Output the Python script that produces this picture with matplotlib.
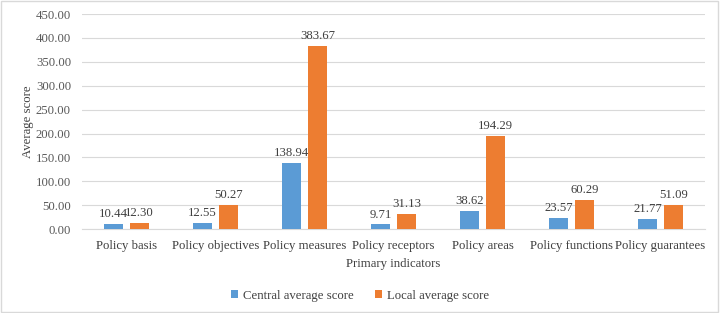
import numpy as np
import matplotlib
matplotlib.use("Agg")
from matplotlib import pyplot as plt

categories = ["Policy basis", "Policy objectives", "Policy measures", "Policy receptors",
              "Policy areas", "Policy functions", "Policy guarantees"]
central = [10.44, 12.55, 138.94, 9.71, 38.62, 23.57, 21.77]
local = [12.30, 50.27, 383.67, 31.13, 194.29, 60.29, 51.09]

plt.rcParams['font.family'] = ['Liberation Serif', 'DejaVu Serif']
plt.rcParams['font.size'] = 9.2

fig = plt.figure(figsize=(7.2, 3.13), dpi=100)
ax = fig.add_axes([0.114, 0.268, 0.865, 0.687])

x = np.arange(len(categories))
w = 0.22
off = 0.145
b1 = ax.bar(x - off, central, w, color="#5B9BD5", label="Central average score", zorder=3)
b2 = ax.bar(x + off, local, w, color="#ED7D31", label="Local average score", zorder=3)

for bars, vals in ((b1, central), (b2, local)):
    for r, v in zip(bars, vals):
        ax.text(r.get_x() + r.get_width() / 2, v + 8, f"{v:.2f}", ha="center", va="bottom",
                color="#404040")

ax.set_ylim(0, 450)
ax.set_yticks(np.arange(0, 451, 50))
ax.set_yticklabels([f"{v:.2f}" for v in np.arange(0, 451, 50)], color="#595959")
ax.set_xlim(-0.5, len(categories) - 0.5)
ax.set_xticks(x)
ax.set_xticklabels(categories, color="#404040")
ax.tick_params(length=0, pad=8)
ax.yaxis.grid(True, color="#D9D9D9", linewidth=0.8, zorder=0)
for s in ["top", "right", "left"]:
    ax.spines[s].set_visible(False)
ax.spines["bottom"].set_color("#D9D9D9")

ax.set_xlabel("Primary indicators", color="#404040", labelpad=4)
ax.set_ylabel("Average score", color="#404040", labelpad=1)

fig.legend(loc="lower center", ncol=2, frameon=False, bbox_to_anchor=(0.5, 0.0),
           handlelength=0.6, handleheight=0.6, handletextpad=0.4, columnspacing=1.6,
           labelcolor="#404040")

fig.patches.append(plt.Rectangle((0.002, 0.003), 0.995, 0.993, transform=fig.transFigure,
                                 fill=False, edgecolor="#D9D9D9", linewidth=1))

fig.savefig("out.png", dpi=100)
